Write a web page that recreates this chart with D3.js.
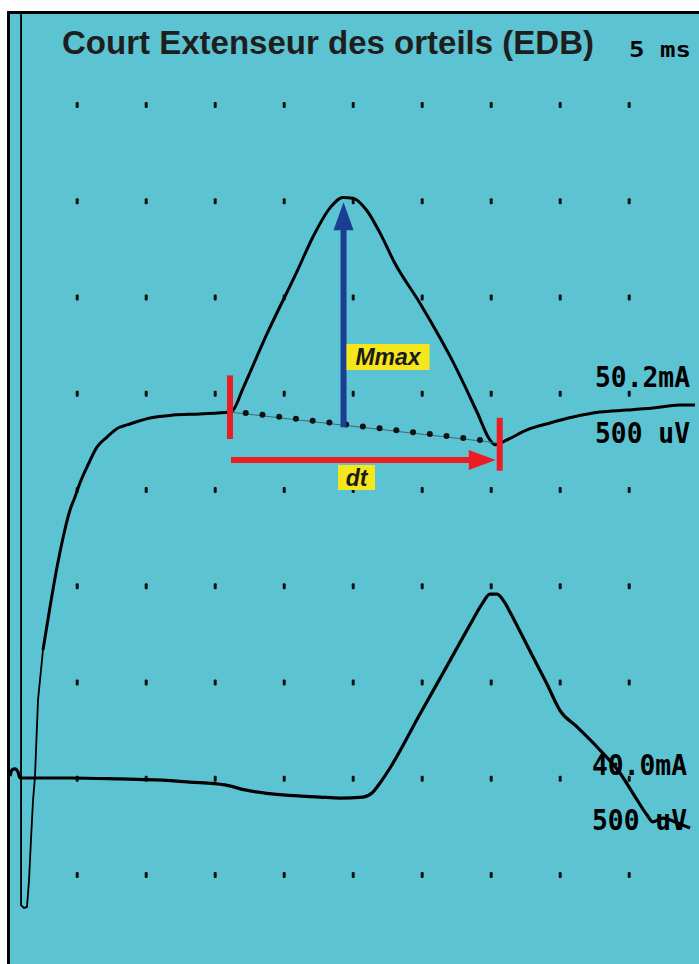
<!DOCTYPE html>
<html><head><meta charset="utf-8">
<script src="https://cdn.jsdelivr.net/npm/d3@7"></script>
<style>html,body{margin:0;padding:0;background:#fff;}svg{display:block;}</style>
</head><body>
<script>
// ---- DATA ----
const title = "Court Extenseur des orteils (EDB)";
const timebaseLabel = "5 ms";
const trace1Labels = ["50.2mA", "500 uV"];
const trace2Labels = ["40.0mA", "500 uV"];
// grid dot times (ms) and rows (divisions)
const gridTimes = [4, 9, 14, 19, 24, 29, 34, 39, 44];
const gridRows = [0, 1, 2, 3, 4, 5, 6, 7, 8];
// trace 1 (top): time ms, amplitude µV
const trace1Artifact = [
  [-0.07, 2066], [-0.07, -2560], [0.14, -2575], [0.36, -2570], [0.51, -2430],
  [0.65, -2222], [0.80, -2015], [0.94, -1895], [1.16, -1495], [1.52, -1236]
];
const trace1 = [
  [1.52, -1236], [2.03, -1012], [2.54, -805], [2.97, -654], [3.48, -509], [3.84, -441],
  [4.20, -369], [4.71, -286], [5.43, -182], [6.16, -130], [6.96, -83], [7.61, -67],
  [9.28, -31], [10.94, -16], [12.90, -10], [15.07, 0], [15.3, 10], [16.0, 120],
  [17.75, 405], [19.93, 730], [21.09, 910], [22.32, 1060], [23.26, 1114], [23.99, 1110],
  [25.0, 1045], [25.94, 930], [27.0, 775], [28.84, 565], [30.29, 385], [31.23, 260],
  [32.97, 0], [33.91, -145], [34.28, -170], [35.14, -145], [36.59, -93], [38.26, -57],
  [39.93, -26], [41.88, 0], [43.84, 10], [45.72, 21], [47.68, 36], [48.77, 36]
];
// trace 2 (bottom): time ms, amplitude µV
const trace2 = [
  [-0.87, 10], [-0.72, 42], [-0.51, 47], [-0.29, 31], [-0.14, 0], [1.30, 0], [3.48, 0],
  [7.10, -5], [9.64, -10], [12.17, -21], [14.71, -36], [16.16, -62], [18.91, -88],
  [21.59, -99], [23.04, -104], [24.71, -99], [25.36, -78], [25.94, -26], [26.67, 52],
  [28.84, 332], [30.80, 582], [32.46, 795], [33.33, 903], [33.91, 955], [34.42, 955],
  [35.0, 909], [35.36, 862], [36.81, 659], [38.04, 488], [38.99, 350],
  [40.22, 265], [41.67, 161], [43.33, 26], [44.57, -114], [45.29, -192], [45.72, -228],
  [46.45, -208], [47.32, -228], [48.41, -260]
];
// annotations (trace 1)
const onset = [15.0, 0];        // ms, µV
const offset = [34.4, -160];     // ms, µV
const mmaxTime = 23.3;
const mmaxPeak = 1100;
const markerHalf = 130;          // µV half-height of onset/offset markers

// ---- LAYOUT ----
const W = 699, H = 964;
const svg = d3.select("body").append("svg").attr("width", W).attr("height", H);
const bg = "#5cc3d2";
svg.append("rect").attr("x", 8).attr("y", 12).attr("width", W - 8).attr("height", H - 12).attr("fill", bg);
svg.append("line").attr("x1", 8.5).attr("x2", 8.5).attr("y1", 11).attr("y2", H).attr("stroke", "#000").attr("stroke-width", 3);
svg.append("line").attr("x1", 7).attr("x2", W).attr("y1", 12.5).attr("y2", 12.5).attr("stroke", "#000").attr("stroke-width", 3);

const x = d3.scaleLinear().domain([0, 5]).range([22, 91]);
const gy = d3.scaleLinear().domain([0, 8]).range([105, 875]);
const y1 = d3.scaleLinear().domain([0, 500]).range([412, 412 - 96.3]);
const y2 = d3.scaleLinear().domain([0, 500]).range([778, 778 - 96.3]);

// grid dots
const dots = svg.append("g");
gridRows.forEach(r => gridTimes.forEach(t => {
  dots.append("rect").attr("x", x(t) - 1.5).attr("y", gy(r) - 3).attr("width", 3).attr("height", 6)
    .attr("rx", 1).attr("fill", "#111");
}));

// traces
const lineA = d3.line().x(d => x(d[0])).y(d => y1(d[1]));
const line1 = d3.line().x(d => x(d[0])).y(d => y1(d[1])).curve(d3.curveMonotoneX);
const line2 = d3.line().x(d => x(d[0])).y(d => y2(d[1])).curve(d3.curveMonotoneX);
svg.append("path").attr("d", lineA(trace1Artifact)).attr("fill", "none").attr("stroke", "#000").attr("stroke-width", 1.8);
svg.append("path").attr("d", line1(trace1)).attr("fill", "none").attr("stroke", "#000").attr("stroke-width", 3).attr("stroke-linejoin", "round");
svg.append("path").attr("d", line2(trace2)).attr("fill", "none").attr("stroke", "#000").attr("stroke-width", 3.2).attr("stroke-linejoin", "round");

// dotted baseline
const ox = x(onset[0]), oy = y1(onset[1]), ex = x(offset[0]), ey = y1(offset[1]);
svg.append("line").attr("x1", ox).attr("y1", oy).attr("x2", ex).attr("y2", ey).attr("stroke", "#3a6a72").attr("stroke-width", 1);
d3.range(1, 16).forEach(i => {
  const f = i / 16;
  svg.append("circle").attr("cx", ox + (ex - ox) * f).attr("cy", oy + (ey - oy) * f - 1).attr("r", 3).attr("fill", "#111");
});

// red markers
const red = "#ec1c24";
svg.append("line").attr("x1", ox + 1).attr("x2", ox + 1).attr("y1", y1(onset[1] + markerHalf + 60)).attr("y2", y1(onset[1] - markerHalf - 10))
  .attr("stroke", red).attr("stroke-width", 6);
svg.append("line").attr("x1", ex + 3).attr("x2", ex + 3).attr("y1", y1(offset[1] + markerHalf)).attr("y2", y1(offset[1] - markerHalf - 15))
  .attr("stroke", red).attr("stroke-width", 6);
const ay = 460;
svg.append("line").attr("x1", ox + 2).attr("x2", ex - 26).attr("y1", ay).attr("y2", ay).attr("stroke", red).attr("stroke-width", 6);
svg.append("path").attr("d", `M${ex - 28},${ay - 10} L${ex - 1},${ay} L${ex - 28},${ay + 10} Z`).attr("fill", red);

// blue Mmax arrow
const blue = "#1b3d92";
const mx = x(mmaxTime);
const baseY = oy + (ey - oy) * ((mx - ox) / (ex - ox));
const tipY = y1(mmaxPeak) + 2;
svg.append("line").attr("x1", mx).attr("x2", mx).attr("y1", baseY + 2).attr("y2", tipY + 24).attr("stroke", blue).attr("stroke-width", 6);
svg.append("path").attr("d", `M${mx - 10},${tipY + 28} L${mx},${tipY} L${mx + 10},${tipY + 28} Z`).attr("fill", blue);

// yellow labels
function tag(cx, cy, w, h, txt) {
  svg.append("rect").attr("x", cx).attr("y", cy).attr("width", w).attr("height", h).attr("fill", "#f6e71c");
  svg.append("text").attr("x", cx + w / 2).attr("y", cy + h / 2 + 8).attr("text-anchor", "middle")
    .attr("font-family", "Liberation Sans, Arial, sans-serif").attr("font-weight", "bold").attr("font-style", "italic")
    .attr("font-size", 23).attr("fill", "#1a1a1a").text(txt);
}
tag(mx + 3, 344, 83, 26, "Mmax");
tag(338, 465, 37, 25, "dt");

// title
svg.append("text").attr("x", 62).attr("y", 54).attr("font-family", "Liberation Sans, Arial, sans-serif")
  .attr("font-weight", "bold").attr("font-size", 33).attr("fill", "#1e1e1e")
  .attr("textLength", 532).attr("lengthAdjust", "spacingAndGlyphs").text(title);

// mono labels
function mono(xp, yp, w, fs, txt) {
  svg.append("text").attr("x", xp).attr("y", yp).attr("font-family", "DejaVu Sans Mono, monospace")
    .attr("font-weight", "bold").attr("font-size", fs).attr("fill", "#000")
    .attr("textLength", w).attr("lengthAdjust", "spacingAndGlyphs").text(txt);
}
mono(629, 57, 62, 22, timebaseLabel);
mono(595, 387, 95, 29, trace1Labels[0]);
mono(595, 443, 95, 29, trace1Labels[1]);
mono(592, 775, 95, 29, trace2Labels[0]);
mono(592, 830, 95, 29, trace2Labels[1]);
</script>
</body></html>
